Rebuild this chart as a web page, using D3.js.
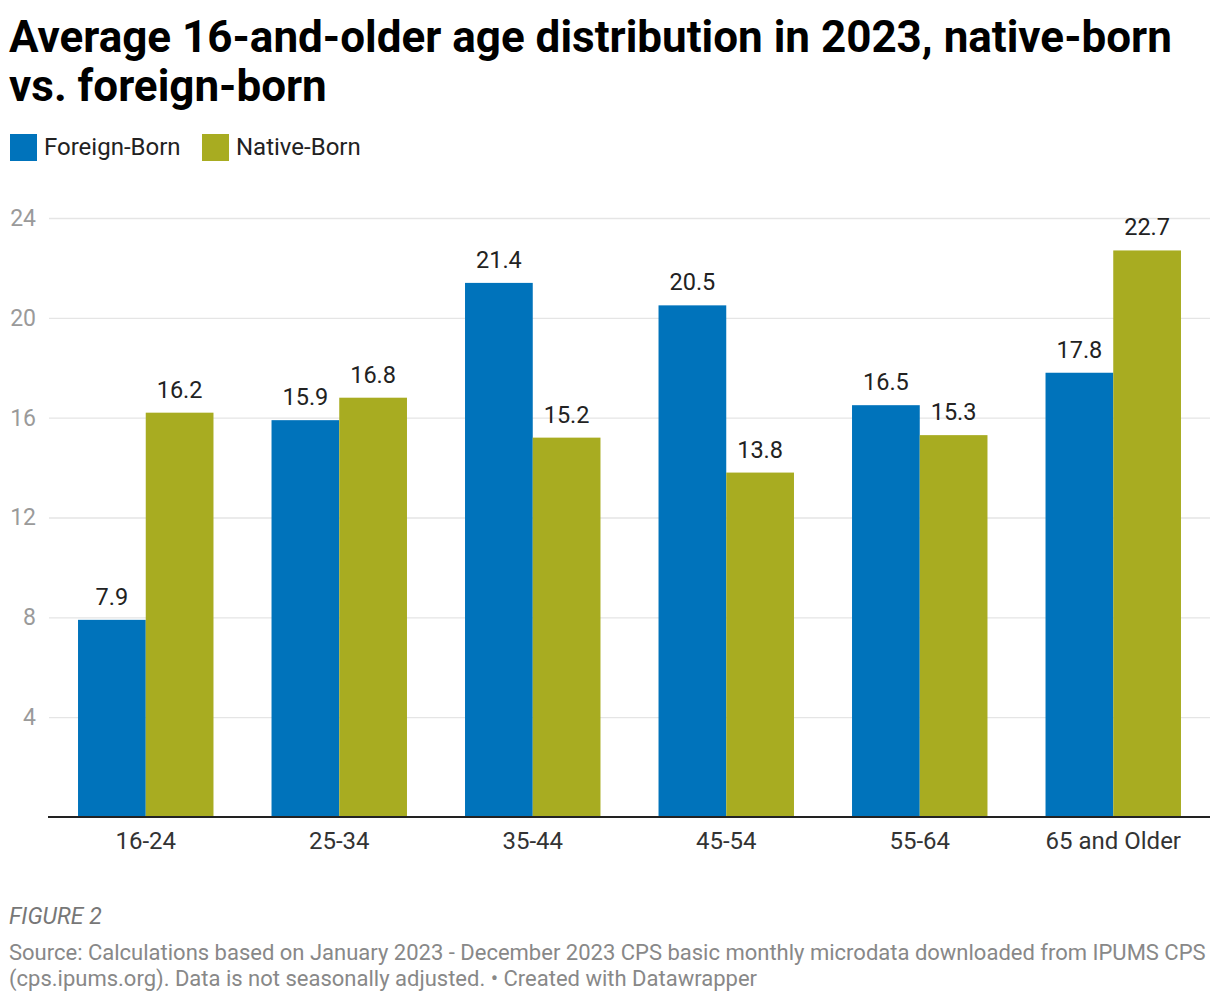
<!DOCTYPE html>
<html><head><meta charset="utf-8">
<script src="https://cdn.jsdelivr.net/npm/d3@7"></script>
<style>body{margin:0;background:#fff;font-family:Roboto,sans-serif}</style>
</head><body><svg id="c" width="1220" height="1004"></svg>
<script>
const categories = ["16-24","25-34","35-44","45-54","55-64","65 and Older"];
const seriesNames = ["Foreign-Born","Native-Born"];
const foreignBorn = [7.9,15.9,21.4,20.5,16.5,17.8];
const nativeBorn = [16.2,16.8,15.2,13.8,15.3,22.7];
const yTicks = [4,8,12,16,20,24];
const colors = ["#0073bb","#a8ac21"];

const svg = d3.select("#c");
const x = d3.scaleBand().domain(categories).range([49,1210]).paddingInner(0.3).paddingOuter(0.15);
const xs = d3.scaleBand().domain(seriesNames).range([0,x.bandwidth()]);
const y = d3.scaleLinear().domain([0,24]).range([817,218]);

// title
const title = svg.append("text").attr("font-weight",700).attr("font-size",44).attr("fill","#000");
title.append("tspan").attr("x",9).attr("y",52).text("Average 16-and-older age distribution in 2023, native-born");
title.append("tspan").attr("x",9).attr("y",101).text("vs. foreign-born");

// legend
const lx = [10,202];
seriesNames.forEach((s,i)=>{
  svg.append("rect").attr("x",lx[i]).attr("y",134).attr("width",27).attr("height",27).attr("fill",colors[i]);
  svg.append("text").attr("x",lx[i]+34).attr("y",155).attr("font-size",24).attr("fill","#222").text(s);
});

// grid
const yAxis = d3.axisLeft(y).tickValues(yTicks).tickSize(-(1210-49)).tickPadding(13);
const g = svg.append("g").attr("transform","translate(49,0)").call(yAxis);
g.select(".domain").remove();
g.selectAll(".tick line").attr("stroke","#e5e5e5").attr("stroke-width",1.3);
g.selectAll(".tick text").attr("font-size",23).attr("fill","#9a9a9a").attr("font-family","Roboto");

// bars
const data = categories.map((c,i)=>({c, vals:[foreignBorn[i],nativeBorn[i]]}));
const grp = svg.append("g").selectAll("g").data(data).join("g").attr("transform",d=>`translate(${x(d.c)},0)`);
grp.selectAll("rect").data(d=>d.vals.map((v,i)=>({v,s:seriesNames[i],i}))).join("rect")
  .attr("x",d=>xs(d.s)).attr("width",xs.bandwidth()).attr("y",d=>y(d.v)).attr("height",d=>y(0)-y(d.v)).attr("fill",d=>colors[d.i]);
grp.selectAll("text").data(d=>d.vals.map((v,i)=>({v,s:seriesNames[i],i}))).join("text")
  .attr("x",d=>xs(d.s)+xs.bandwidth()/2).attr("y",d=>y(d.v)-15).attr("text-anchor","middle")
  .attr("font-size",23.5).attr("fill","#222").text(d=>d.v.toFixed(1));

// x axis
const xAxis = d3.axisBottom(x).tickSize(0).tickPadding(15);
const gx = svg.append("g").attr("transform","translate(0,817)").call(xAxis);
gx.select(".domain").attr("stroke","#222").attr("stroke-width",2).attr("d","M48,0H1210");
gx.selectAll(".tick text").attr("font-size",24).attr("fill","#333").attr("font-family","Roboto");

// footer
svg.append("text").attr("x",9).attr("y",924).attr("font-size",23).attr("font-style","italic").attr("fill","#777").text("FIGURE 2");
svg.append("text").attr("x",9).attr("y",960).attr("font-size",22).attr("fill","#888").text("Source: Calculations based on January 2023 - December 2023 CPS basic monthly microdata downloaded from IPUMS CPS");
svg.append("text").attr("x",9).attr("y",986).attr("font-size",22).attr("fill","#888").text("(cps.ipums.org). Data is not seasonally adjusted. • Created with Datawrapper");
</script></body></html>
